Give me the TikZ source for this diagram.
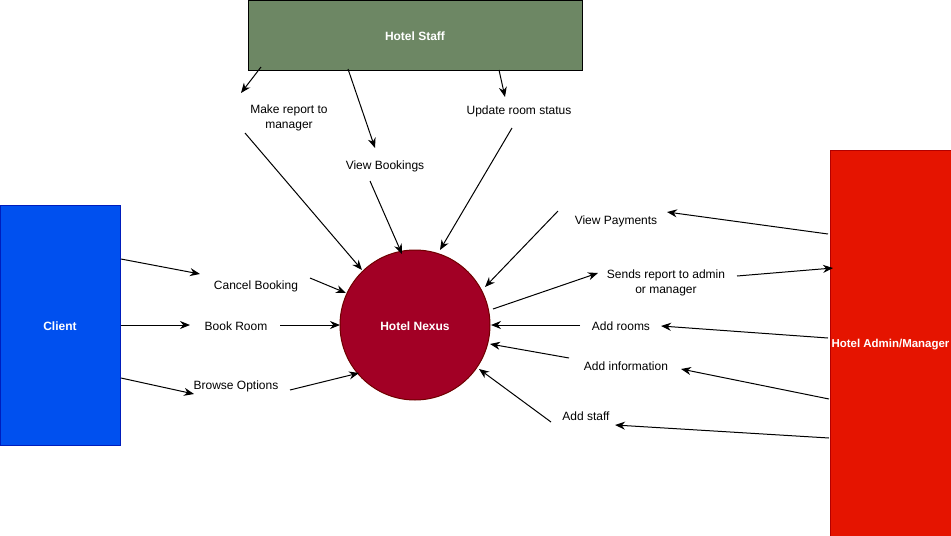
\documentclass[tikz,border=0pt]{standalone}
\usepackage{fontspec}
\setmainfont{Liberation Sans}
\usetikzlibrary{arrows.meta}
\definecolor{staffgreen}{HTML}{6D8764}
\definecolor{staffborder}{HTML}{000000}
\definecolor{clientblue}{HTML}{0050EF}
\definecolor{clientborder}{HTML}{001DBC}
\definecolor{adminred}{HTML}{E51400}
\definecolor{adminborder}{HTML}{B20000}
\definecolor{nexusred}{HTML}{A20025}
\definecolor{nexusborder}{HTML}{6F0000}
\begin{document}
\begin{tikzpicture}[x=0.75pt,y=-0.75pt,
  every node/.style={font=\fontsize{9}{11}\selectfont},
  entity/.style={draw, line width=0.75pt, inner sep=0pt, text=white, font=\fontsize{9}{11}\selectfont\bfseries},
  lbl/.style={align=center, inner sep=1pt, text=black, yshift=-1.2pt},
  flow/.style={draw=black, line width=0.75pt, -{Stealth[length=7.5pt,width=6pt]}}]
\useasboundingbox (0,0) rectangle (951,536);
% entities
\node[entity, fill=staffgreen, draw=staffborder, minimum width=250.5pt, minimum height=52.5pt, anchor=north west] (staff) at (248,0) {};
\node[text=white, font=\fontsize{9}{11}\selectfont\bfseries, yshift=-1.2pt] (stafftxt) at (415,35) {Hotel Staff};
\node[entity, fill=clientblue, draw=clientborder, minimum width=90pt, minimum height=180pt, anchor=north west] (client) at (0,205) {};
\node[text=white, font=\fontsize{9}{11}\selectfont\bfseries, yshift=-1.2pt] (clienttxt) at (60,325) {Client};
\node[entity, fill=adminred, draw=adminborder, minimum width=90.75pt, minimum height=289.5pt, anchor=north west] (admin) at (830,150) {};
\node[text=white, font=\fontsize{8.6}{11}\selectfont\bfseries, yshift=-1.2pt] (admintxt) at (890.5,343) {Hotel Admin/Manager};
\node[circle, draw=nexusborder, fill=nexusred, line width=0.75pt, minimum size=112.5pt, inner sep=0pt] (nexus) at (415,325) {};
\node[text=white, font=\fontsize{9}{11}\selectfont\bfseries, yshift=-1.2pt] (nexustxt) at (415,325) {Hotel Nexus};
% labels
\node[lbl] (mkrep) at (289,116) {Make report to\\manager};
\node[lbl] (vbook) at (385,165) {View Bookings};
\node[lbl] (uroom) at (519,110) {Update room status};
\node[lbl] (vpay) at (616,220) {View Payments};
\node[lbl] (sendrep) at (666,281) {Sends report to admin\\or manager};
\node[lbl] (addrooms) at (621,325) {Add rooms};
\node[lbl] (addinfo) at (626,365) {Add information};
\node[lbl] (addstaff) at (586,415) {Add staff};
\node[lbl] (cancel) at (256,285) {Cancel Booking};
\node[lbl] (bookroom) at (236,325) {Book Room};
\node[lbl] (browse) at (236,385) {Browse Options};
% endpoint coordinates
\coordinate (s1a) at (261,67); \coordinate (s1b) at (241,93);
\coordinate (s1c) at (245,133); \coordinate (s1d) at (362,270);
\coordinate (s2a) at (348,69); \coordinate (s2b) at (375,148);
\coordinate (s2c) at (370,181); \coordinate (s2d) at (402,254);
\coordinate (s3a) at (499,70); \coordinate (s3b) at (505,97);
\coordinate (s3c) at (512,128); \coordinate (s3d) at (440,250);
\coordinate (a1a) at (828,234); \coordinate (a1b) at (667,212);
\coordinate (a1c) at (558,211); \coordinate (a1d) at (485,287);
\coordinate (a2a) at (493,309); \coordinate (a2b) at (598,273);
\coordinate (a2c) at (737,276); \coordinate (a2d) at (833,268);
\coordinate (a3a) at (828,338); \coordinate (a3b) at (661,326);
\coordinate (a3c) at (580,325); \coordinate (a3d) at (491,325);
\coordinate (a4a) at (829,399); \coordinate (a4b) at (681,369);
\coordinate (a4c) at (569,358); \coordinate (a4d) at (490,344);
\coordinate (a5a) at (829,438); \coordinate (a5b) at (615,425);
\coordinate (a5c) at (551,422); \coordinate (a5d) at (479,369);
\coordinate (c1a) at (121,259); \coordinate (c1b) at (200,274);
\coordinate (c1c) at (310,278); \coordinate (c1d) at (346,293);
\coordinate (c2a) at (121,325); \coordinate (c2b) at (190,325);
\coordinate (c2c) at (280,325); \coordinate (c2d) at (340,325);
\coordinate (c3a) at (121,378); \coordinate (c3b) at (194,394);
\coordinate (c3c) at (290,390); \coordinate (c3d) at (359,373);
% flows
\foreach \p in {s1,s2,s3,a1,a2,a3,a4,a5,c1,c2,c3}{
  \draw[flow] (\p a) -- (\p b);
  \draw[flow] (\p c) -- (\p d);
}
\end{tikzpicture}
\end{document}
